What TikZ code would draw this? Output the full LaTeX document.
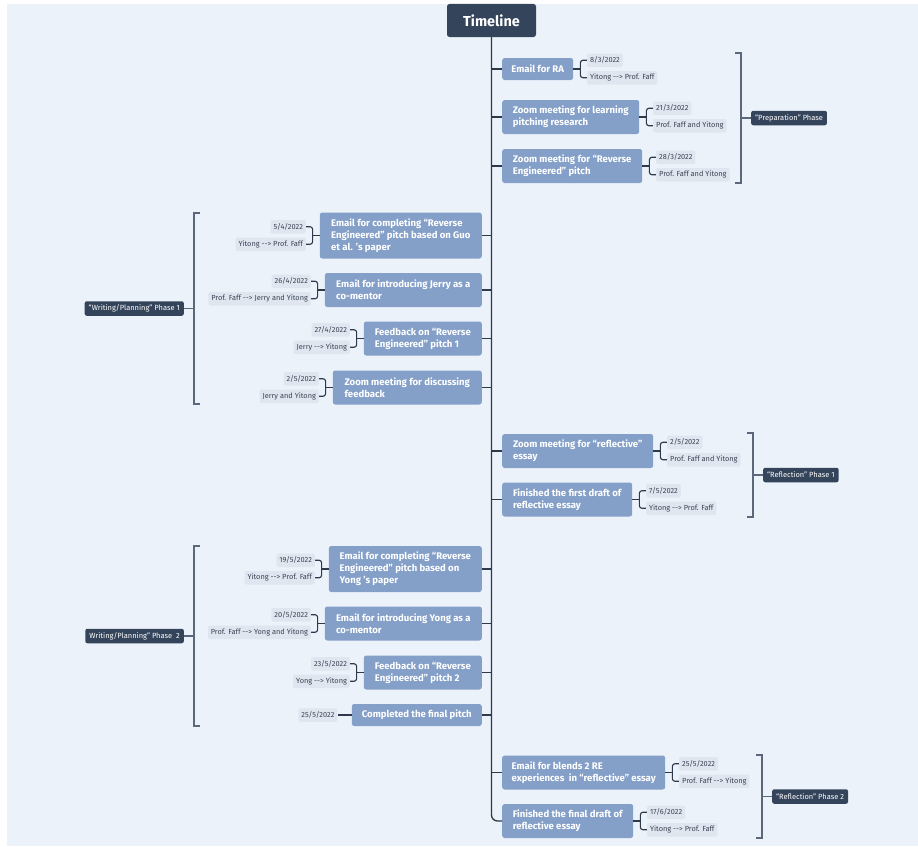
\documentclass[tikz,border=0pt]{standalone}
\usepackage{fontspec}
\setmainfont{Fira Sans}
\usetikzlibrary{calc}
\definecolor{Page}{HTML}{EBF2FA}
\definecolor{Navy}{HTML}{34445B}
\definecolor{Topic}{HTML}{849FC8}
\definecolor{Chip}{HTML}{DFE6EF}
\definecolor{ChipText}{HTML}{3A4455}
\definecolor{Wire}{HTML}{2E3A4B}
\definecolor{Rail}{HTML}{5B677B}
\tikzset{
  root/.style={fill=Navy,text=white,rounded corners=2.5bp,minimum width=89bp,minimum height=33bp,font=\fontsize{14.5}{16}\selectfont\bfseries},
  topic/.style={fill=Topic,text=white,rounded corners=2.5bp,inner xsep=7bp,inner ysep=0pt,align=left,font=\fontsize{9.6}{12.2}\selectfont\bfseries},
  chip/.style={fill=Chip,text=ChipText,rounded corners=2bp,inner xsep=3bp,inner ysep=0pt,minimum height=13.5bp,font=\fontsize{7.4}{8}\selectfont},
  phase/.style={fill=Navy,text=white,rounded corners=2bp,inner xsep=4bp,inner ysep=0pt,minimum height=14.5bp,font=\fontsize{7.5}{8}\selectfont},
  trunk/.style={draw=Wire,line width=1.3bp},
  link/.style={draw=Wire,line width=1.1bp},
  rail/.style={draw=Rail,line width=1.1bp},
}
\newcommand{\TopicR}[5]{%
  \node[topic,anchor=west,minimum width=#3bp,minimum height=#4bp] (#1) at (502,#2) {#5};%
}
\newcommand{\TopicL}[5]{%
  \node[topic,anchor=east,minimum width=#3bp,minimum height=#4bp] (#1) at (482,#2) {#5};%
}
\newcommand{\ChipsR}[3]{%
  \node[chip,anchor=west] (#1d) at ([xshift=13.5bp,yshift=8.75bp]#1.east) {#2};%
  \node[chip,anchor=west] (#1w) at ([xshift=13.5bp,yshift=-8.75bp]#1.east) {#3};%
  \draw[link] (#1.east) -- ++(7,0) coordinate (#1j);%
  \draw[link,rounded corners=2.5bp] (#1d.west) -| (#1j) |- (#1w.west);%
}
\newcommand{\ChipsL}[3]{%
  \node[chip,anchor=east] (#1d) at ([xshift=-13.5bp,yshift=8.75bp]#1.west) {#2};%
  \node[chip,anchor=east] (#1w) at ([xshift=-13.5bp,yshift=-8.75bp]#1.west) {#3};%
  \draw[link] (#1.west) -- ++(-7,0) coordinate (#1j);%
  \draw[link,rounded corners=2.5bp] (#1d.east) -| (#1j) |- (#1w.east);%
}
\newcommand{\PhaseR}[5]{%
  \draw[rail] (#2-6,#3) -- (#2,#3) -- (#2,#4) -- (#2-6,#4);%
  \coordinate (#1m) at (#2,{(#3+#4)/2});%
  \node[phase,anchor=west] (#1) at ([xshift=10bp]#1m) {#5};%
  \draw[rail] (#1m) -- (#1.west);%
}
\newcommand{\PhaseL}[5]{%
  \draw[rail] (#2+6,#3) -- (#2,#3) -- (#2,#4) -- (#2+6,#4);%
  \coordinate (#1m) at (#2,{(#3+#4)/2});%
  \node[phase,anchor=east] (#1) at ([xshift=-10bp]#1m) {#5};%
  \draw[rail] (#1m) -- (#1.east);%
}

\begin{document}
\begin{tikzpicture}[x=1bp,y=-1bp]
\useasboundingbox (0,0) rectangle (918,847);
\fill[white] (0,0) rectangle (918,847);
\fill[Page] (7,4) rectangle (918,846);
\node[root] (root) at (491.5,20.5) {Timeline};
\TopicR{R1}{69}{71}{22}{Email for RA}
\TopicR{R2}{117}{137}{34}{Zoom meeting for learning\\pitching research}
\TopicR{R3}{166}{140}{34}{Zoom meeting for “Reverse\\Engineered” pitch}
\TopicL{L1}{235.5}{162}{46}{Email for completing “Reverse\\Engineered” pitch based on Guo\\et al. 's paper}
\TopicL{L2}{290}{157}{34}{Email for introducing Jerry as a\\co-mentor}
\TopicL{L3}{338.5}{118}{34}{Feedback on “Reverse\\Engineered” pitch 1}
\TopicL{L4}{387.5}{149}{34}{Zoom meeting for discussing\\feedback}
\TopicR{R4}{451}{151}{34}{Zoom meeting for “reflective”\\essay}
\TopicR{R5}{499.5}{130}{34}{Finished the first draft of\\reflective essay}
\TopicL{L5}{569}{153}{46}{Email for completing “Reverse\\Engineered” pitch based on\\Yong 's paper}
\TopicL{L6}{623.5}{157}{34}{Email for introducing Yong as a\\co-mentor}
\TopicL{L7}{672.5}{118}{34}{Feedback on “Reverse\\Engineered” pitch 2}
\TopicL{L8}{715}{130}{22}{Completed the final pitch}
\TopicR{R6}{772.5}{163}{34}{Email for blends 2 RE\\experiences\ \ in “reflective” essay}
\TopicR{R7}{821}{131}{34}{Finished the final draft of\\reflective essay}
\draw[trunk,rounded corners=6bp] (root.south) |- (R7.west);
\foreach \n in {R1,R2,R3,R4,R5,R6} {
  \draw[trunk] (\n.west) -- (\n.west -| root.south);
}
\foreach \n in {L1,L2,L3,L4,L5,L6,L7,L8} {
  \draw[trunk] (\n.east) -- (\n.east -| root.south);
}
\ChipsR{R1}{8/3/2022}{Yitong -{}-> Prof. Faff}
\ChipsR{R2}{21/3/2022}{Prof. Faff and Yitong}
\ChipsR{R3}{28/3/2022}{Prof. Faff and Yitong}
\ChipsL{L1}{5/4/2022}{Yitong -{}-> Prof. Faff}
\ChipsL{L2}{26/4/2022}{Prof. Faff -{}-> Jerry and Yitong}
\ChipsL{L3}{27/4/2022}{Jerry -{}-> Yitong}
\ChipsL{L4}{2/5/2022}{Jerry and Yitong}
\ChipsR{R4}{2/5/2022}{Prof. Faff and Yitong}
\ChipsR{R5}{7/5/2022}{Yitong -{}-> Prof. Faff}
\ChipsL{L5}{19/5/2022}{Yitong -{}-> Prof. Faff}
\ChipsL{L6}{20/5/2022}{Prof. Faff -{}-> Yong and Yitong}
\ChipsL{L7}{23/5/2022}{Yong -{}-> Yitong}
\ChipsR{R6}{25/5/2022}{Prof. Faff -{}-> Yitong}
\ChipsR{R7}{17/6/2022}{Yitong -{}-> Prof. Faff}
\node[chip,anchor=east] (L8d) at ([xshift=-14bp]L8.west) {25/5/2022};
\draw[link] (L8.west) -- (L8d.east);
\PhaseR{P1}{741}{53}{183}{“Preparation” Phase}
\PhaseL{P2}{194}{213}{404}{“Writing/Planning” Phase 1}
\PhaseR{P3}{753}{433}{517}{“Reflection” Phase 1}
\PhaseL{P4}{194}{546}{726}{Writing/Planning” Phase\ \ 2}
\PhaseR{P5}{762}{755}{838}{“Reflection” Phase 2}
\end{tikzpicture}
\end{document}
